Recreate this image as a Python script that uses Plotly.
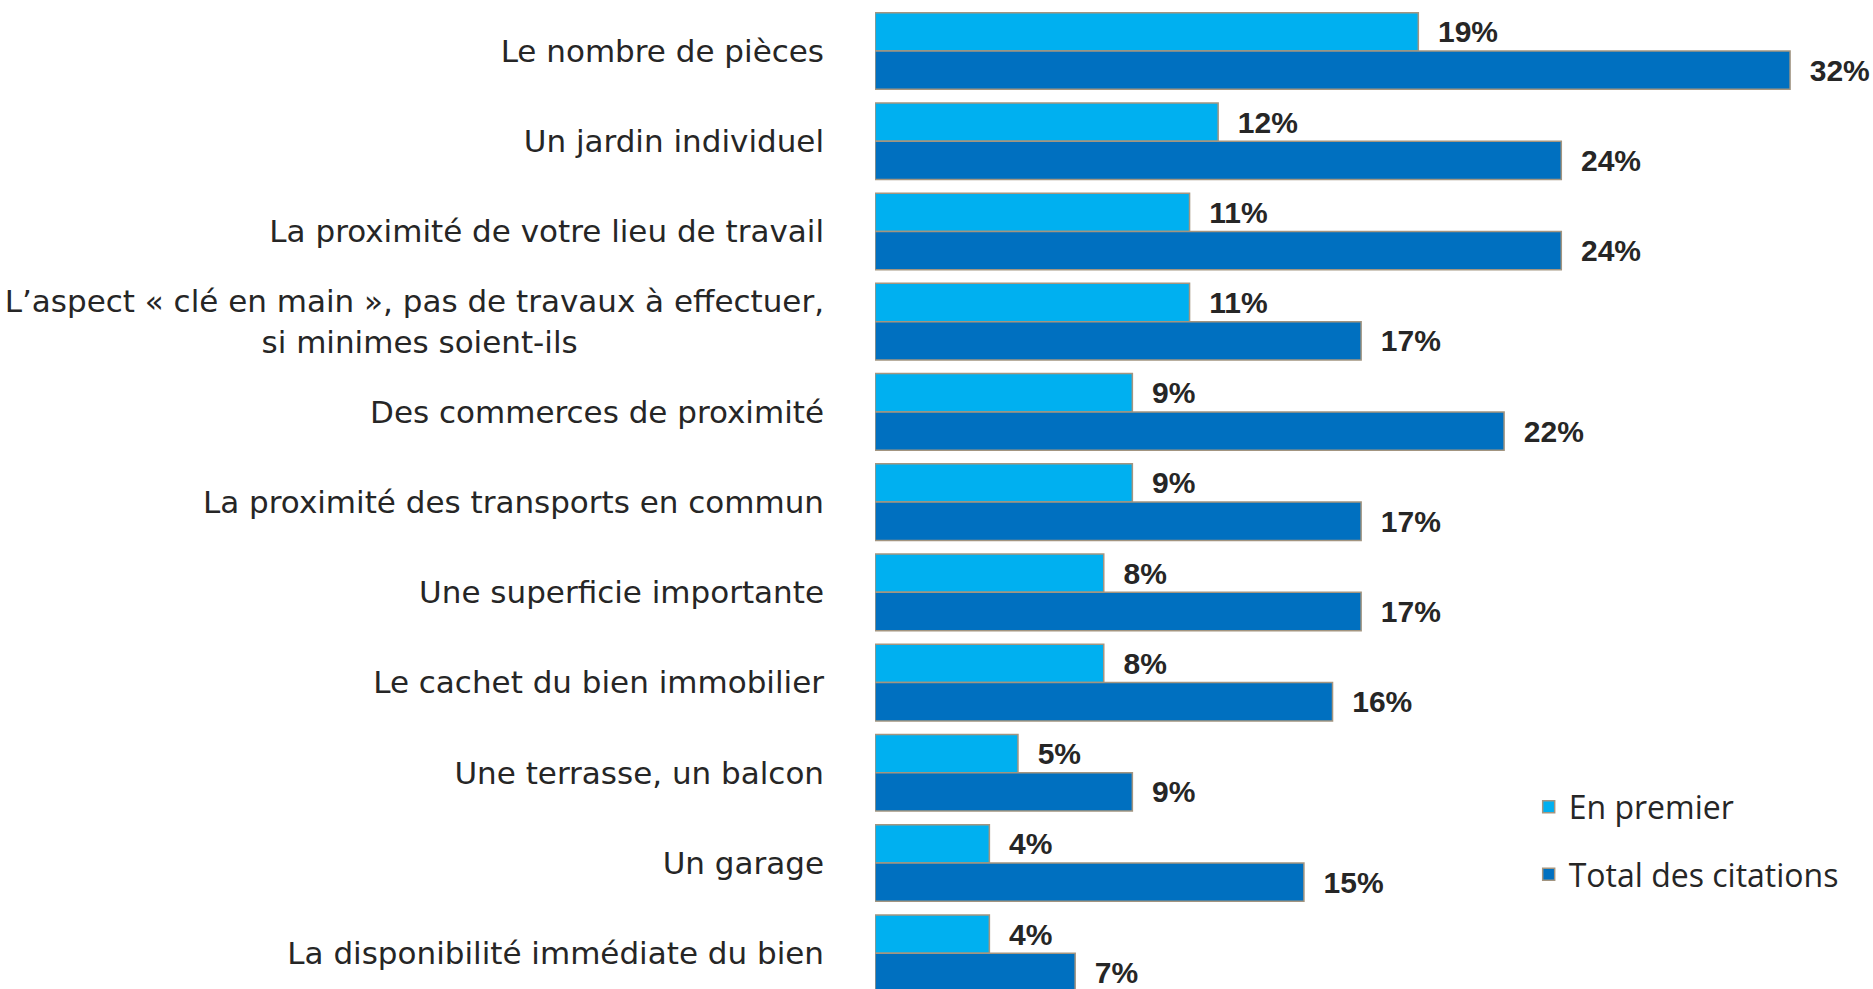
import plotly.graph_objects as go

categories = [
    "Le nombre de pièces",
    "Un jardin individuel",
    "La proximité de votre lieu de travail",
    "L’aspect « clé en main », pas de travaux à effectuer, si minimes soient-ils",
    "Des commerces de proximité",
    "La proximité des transports en commun",
    "Une superficie importante",
    "Le cachet du bien immobilier",
    "Une terrasse, un balcon",
    "Un garage",
    "La disponibilité immédiate du bien",
]
tick_labels = [
    "Le nombre de pièces",
    "Un jardin individuel",
    "La proximité de votre lieu de travail",
    "L’aspect « clé en main », pas de travaux à effectuer,<br>si minimes soient-ils" + "\u00a0" * 25,
    "Des commerces de proximité",
    "La proximité des transports en commun",
    "Une superficie importante",
    "Le cachet du bien immobilier",
    "Une terrasse, un balcon",
    "Un garage",
    "La disponibilité immédiate du bien",
]
en_premier = [19, 12, 11, 11, 9, 9, 8, 8, 5, 4, 4]
total_citations = [32, 24, 24, 17, 22, 17, 17, 16, 9, 15, 7]

label_font = dict(family="Liberation Sans, Arial, sans-serif", size=30, color="#262626")
border = dict(color="#A39580", width=1.5)

fig = go.Figure()
fig.add_trace(go.Bar(
    name="En premier", y=categories, x=en_premier, orientation="h",
    marker=dict(color="#00B0F0", line=border),
    texttemplate="\u00a0\u00a0<b>%{x}%</b>", textposition="outside",
    textfont=label_font, cliponaxis=False, constraintext="none",
    legendgroup="a",
))
fig.add_trace(go.Bar(
    name="Total des citations", y=categories, x=total_citations, orientation="h",
    marker=dict(color="#0070C0", line=border),
    texttemplate="\u00a0\u00a0<b>%{x}%</b>", textposition="outside",
    textfont=label_font, cliponaxis=False, constraintext="none",
    legendgroup="b",
))

fig.update_layout(
    width=1873, height=989,
    margin=dict(l=875, r=0, t=0, b=0),
    paper_bgcolor="white", plot_bgcolor="white",
    barmode="group", bargap=0.151, bargroupgap=0,
    showlegend=True,
    legend=dict(
        x=0.655, y=0.212, xanchor="left", yanchor="top",
        font=dict(family="Open Sans, sans-serif", size=32, color="#262626"),
        traceorder="grouped", tracegroupgap=23,
        bgcolor="rgba(0,0,0,0)",
    ),
    xaxis=dict(range=[0, 34.9], visible=False, showgrid=False, zeroline=False),
    yaxis=dict(
        range=[10.396, -0.565],
        tickmode="array", tickvals=categories, ticktext=tick_labels,
        tickfont=dict(family="DejaVu Sans, sans-serif", size=31, color="#262626"),
        showgrid=False, zeroline=False, showline=False, ticks="",
        ticklabelstandoff=50,
    ),
)

fig.write_html(
    "out.html",
    config={"displayModeBar": False},
    post_script="document.body.style.margin='0';document.body.style.overflow='hidden';",
)
